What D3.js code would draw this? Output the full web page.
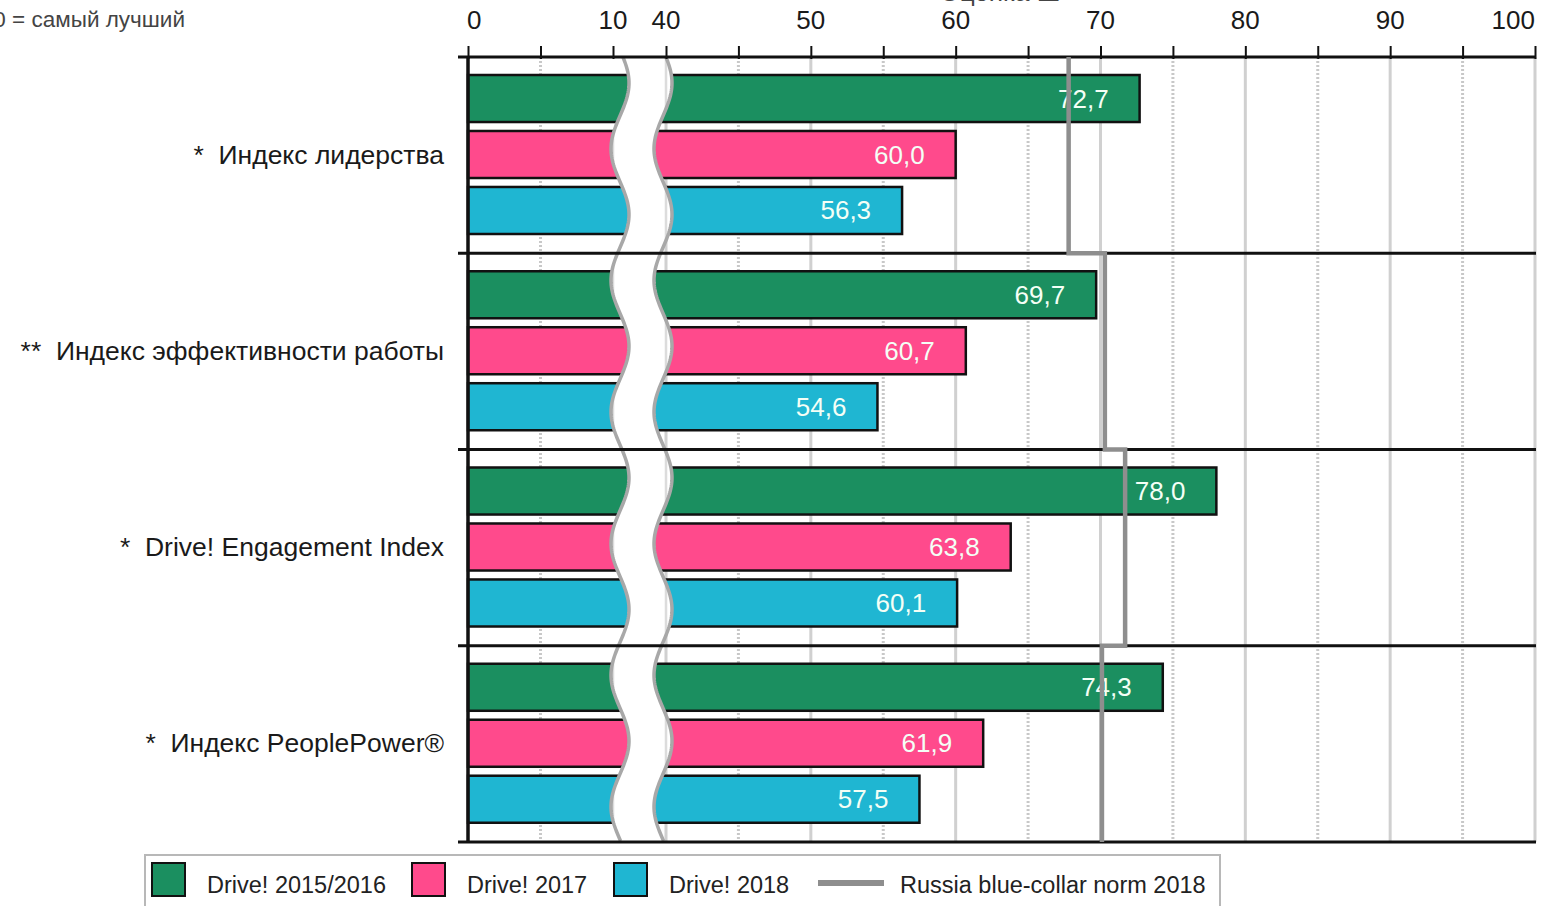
<!DOCTYPE html>
<html><head><meta charset="utf-8">
<script src="https://cdn.jsdelivr.net/npm/d3@7"></script>
<style>
html,body{margin:0;padding:0;background:#fff;overflow:hidden}
svg{display:block;font-family:"Liberation Sans",Arial,sans-serif}
</style></head>
<body>
<svg id="c" width="1552" height="906"></svg>
<script>
const categories = ["*  Индекс лидерства", "**  Индекс эффективности работы", "*  Drive! Engagement Index", "*  Индекс PeoplePower®"];
const seriesNames = ["Drive! 2015/2016", "Drive! 2017", "Drive! 2018"];
const drive2015 = [72.7, 69.7, 78.0, 74.3];
const drive2017 = [60.0, 60.7, 63.8, 61.9];
const drive2018 = [56.3, 54.6, 60.1, 57.5];
const normName = "Russia blue-collar norm 2018";
const norm2018 = [67.8, 70.3, 71.7, 70.1];
const tickValues = [0, 10, 40, 50, 60, 70, 80, 90, 100];
const minorTicks = [5, 45, 55, 65, 75, 85, 95];
const colors = ["#1b8f60", "#ff4a8c", "#1fb6d2"];
const normColor = "#8e8e8e";

const svg = d3.select("#c");
const x = d3.scaleLinear().domain([0, 10, 40, 100]).range([468, 613, 666, 1535]);
const y = d3.scaleBand().domain(categories).range([57, 842]).padding(0);
const yi = d3.scaleBand().domain(seriesNames).range([18, 177]).paddingInner(0.16).paddingOuter(0);
const fmt = v => d3.format(".1f")(v).replace(".", ",");
const seriesData = [drive2015, drive2017, drive2018];

// top-left note (cut off at the left edge, as in the original)
svg.append("text").attr("x", 185).attr("y", 27).attr("text-anchor", "end")
  .attr("font-size", 22.5).attr("fill", "#444").text("100 = самый лучший");
// clipped title sliver
svg.append("text").attr("x", 1000).attr("y", 1).attr("text-anchor", "middle")
  .attr("font-size", 26).attr("fill", "#444").text("Оценка Ш");

// gridlines
const g = svg.append("g");
g.selectAll("line.major").data(tickValues.filter(d => d > 10)).join("line")
  .attr("x1", d => x(d)).attr("x2", d => x(d)).attr("y1", 57).attr("y2", 842)
  .attr("stroke", "#d0d0d0").attr("stroke-width", 3);
g.selectAll("line.minor").data(minorTicks).join("line")
  .attr("x1", d => x(d)).attr("x2", d => x(d)).attr("y1", 57).attr("y2", 842)
  .attr("stroke", "#c8c8c8").attr("stroke-width", 3).attr("stroke-dasharray", "2,2");

// bars
const groups = svg.append("g").selectAll("g").data(categories).join("g")
  .attr("transform", d => `translate(0,${y(d)})`);
seriesNames.forEach((s, si) => {
  groups.append("rect")
    .attr("x", x(0)).attr("y", yi(s))
    .attr("width", (d, i) => x(seriesData[si][i]) - x(0))
    .attr("height", yi.bandwidth())
    .attr("fill", colors[si]).attr("stroke", "#111").attr("stroke-width", 2.5);
});

// break band
const P = 131.6, A = 9, cx = 620, W = 43, phase = 83;
const ys = d3.range(57, 843, 2);
const lx = yy => cx + A * Math.sin(2 * Math.PI * (yy - phase) / P + Math.PI / 2);
const leftPts = ys.map(yy => [lx(yy), yy]);
const rightPts = ys.map(yy => [lx(yy) + W, yy]);
const line = d3.line();
const bandD = line(leftPts.concat(rightPts.slice().reverse())) + "Z";
svg.append("defs").append("clipPath").attr("id", "bandClip").append("path").attr("d", bandD);
svg.append("path").attr("d", bandD).attr("fill", "#fff").attr("stroke", "none");
svg.append("g").attr("clip-path", "url(#bandClip)").selectAll("line").data([10, 40]).join("line")
  .attr("x1", d => x(d)).attr("x2", d => x(d)).attr("y1", 57).attr("y2", 842)
  .attr("stroke", "#dcdcdc").attr("stroke-width", 2.5);
svg.append("path").attr("d", line(leftPts)).attr("fill", "none").attr("stroke", "#a8a8a8").attr("stroke-width", 3.5);
svg.append("path").attr("d", line(rightPts)).attr("fill", "none").attr("stroke", "#a8a8a8").attr("stroke-width", 3.5);

// separators and frame
const seps = categories.map(c => y(c)).concat([842]);
svg.append("g").selectAll("line").data(seps).join("line")
  .attr("x1", 458).attr("x2", 1536).attr("y1", d => d).attr("y2", d => d)
  .attr("stroke", "#111").attr("stroke-width", 3);
svg.append("line").attr("x1", x(0)).attr("x2", x(0)).attr("y1", 57).attr("y2", 843)
  .attr("stroke", "#111").attr("stroke-width", 3.5);

// top axis
const axis = d3.axisTop(x).tickValues(tickValues.concat(minorTicks)).tickSize(10).tickFormat("");
const ax = svg.append("g").attr("transform", "translate(0,57)").call(axis);
ax.select(".domain").remove();
ax.selectAll(".tick line").attr("stroke", "#111").attr("stroke-width", 2).attr("y2", -11).attr("y1", 2);
svg.selectAll("text.tl").data(tickValues).join("text").attr("class", "tl")
  .attr("x", d => d === 0 ? x(d) - 1 : x(d))
  .attr("y", 29)
  .attr("text-anchor", d => d === 0 ? "start" : (d === 100 ? "end" : "middle"))
  .attr("font-size", 26).attr("fill", "#1a1a1a").text(d => d);

// norm step line
const pts = [];
categories.forEach((c, i) => {
  pts.push([x(norm2018[i]), y(c)]);
  pts.push([x(norm2018[i]), y(c) + y.bandwidth()]);
});
svg.append("path").attr("d", line(pts)).attr("fill", "none")
  .attr("stroke", normColor).attr("stroke-width", 4.5);

// value labels
seriesNames.forEach((s, si) => {
  groups.append("text")
    .attr("x", (d, i) => x(seriesData[si][i]) - 31)
    .attr("y", yi(s) + yi.bandwidth() / 2 + 9)
    .attr("text-anchor", "end").attr("font-size", 26).attr("fill", "#f4fff6")
    .text((d, i) => fmt(seriesData[si][i]));
});

// category labels
groups.append("text").attr("x", 444).attr("y", yi(seriesNames[1]) + yi.bandwidth() / 2 + 9)
  .attr("text-anchor", "end").attr("font-size", 26.5).attr("fill", "#1a1a1a")
  .attr("xml:space", "preserve").style("white-space", "pre").text(d => d);

// legend
const lg = svg.append("g");
lg.append("rect").attr("x", 145).attr("y", 855).attr("width", 1075).attr("height", 70)
  .attr("fill", "#fff").attr("stroke", "#b8b8b8").attr("stroke-width", 2);
const legX = [152, 412, 614];
seriesNames.forEach((s, i) => {
  lg.append("rect").attr("x", legX[i]).attr("y", 863).attr("width", 33).attr("height", 33)
    .attr("fill", colors[i]).attr("stroke", "#111").attr("stroke-width", 2);
  lg.append("text").attr("x", legX[i] + 55).attr("y", 893).attr("font-size", 23.5)
    .attr("fill", "#222").text(s);
});
lg.append("line").attr("x1", 818).attr("x2", 884).attr("y1", 883).attr("y2", 883)
  .attr("stroke", normColor).attr("stroke-width", 6);
lg.append("text").attr("x", 900).attr("y", 893).attr("font-size", 23.5).attr("fill", "#222").text(normName);
</script>
</body></html>
